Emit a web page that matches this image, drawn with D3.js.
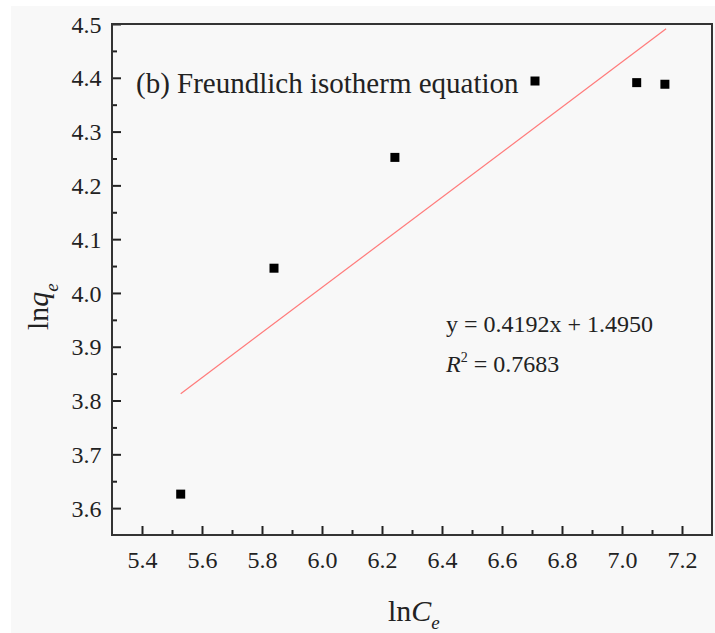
<!DOCTYPE html>
<html>
<head>
<meta charset="utf-8">
<script src="https://cdn.jsdelivr.net/npm/d3@7/dist/d3.min.js"></script>
<style>
  html, body { margin: 0; padding: 0; background: #ffffff; }
  svg { display: block; }
  text { font-family: "Liberation Serif", "Times New Roman", serif; fill: #222; }
</style>
</head>
<body>
<svg id="chart" width="715" height="633"></svg>
<script>
// Freundlich isotherm: ln(Ce) vs ln(qe)
const lnCe = [5.529, 5.840, 6.243, 6.710, 7.049, 7.143];
const lnqe = [3.626, 4.046, 4.252, 4.394, 4.391, 4.388];

// linear fit reported on the chart
const fitSlope = 0.4192;
const fitIntercept = 1.4950;
const fitR2 = "0.7683";

const xMajorTicks = [5.4, 5.6, 5.8, 6.0, 6.2, 6.4, 6.6, 6.8, 7.0, 7.2];
const xMinorTicks = [5.5, 5.7, 5.9, 6.1, 6.3, 6.5, 6.7, 6.9, 7.1];
const yMajorTicks = [3.6, 3.7, 3.8, 3.9, 4.0, 4.1, 4.2, 4.3, 4.4, 4.5];
const yMinorTicks = [3.65, 3.75, 3.85, 3.95, 4.05, 4.15, 4.25, 4.35, 4.45];

const SERIF = '"Liberation Serif", "Times New Roman", serif';

const svg = d3.select("#chart");
const W = 715, H = 633;
const plot = { left: 112, right: 712, top: 24, bottom: 535 };

// page background panel
svg.append("rect")
  .attr("x", 11).attr("y", 6)
  .attr("width", W - 11).attr("height", H - 6)
  .attr("fill", "#f8f8f8");

const x = d3.scaleLinear().domain([5.3, 7.3]).range([plot.left, plot.right]);
const y = d3.scaleLinear().domain([3.55, 4.5]).range([plot.bottom, plot.top]);

const fontTick = 24;

// bottom axis, ticks pointing inward
const gx = svg.append("g").attr("transform", `translate(0,${plot.bottom})`);
gx.call(d3.axisBottom(x).tickValues(xMajorTicks).tickSize(-9).tickFormat(d3.format(".1f")));
gx.append("g").call(d3.axisBottom(x).tickValues(xMinorTicks).tickSize(-5).tickFormat(() => ""));
gx.attr("font-family", SERIF).attr("font-size", fontTick);
gx.selectAll("g").attr("font-family", SERIF);
gx.selectAll(".domain").remove();
gx.selectAll("line").attr("stroke", "#222").attr("stroke-width", 2);
gx.selectAll("text")
  .attr("y", 33).attr("dy", null)
  .style("font-family", SERIF)
  .style("font-size", fontTick + "px")
  .attr("fill", "#222");

// left axis, ticks pointing inward
const gy = svg.append("g").attr("transform", `translate(${plot.left},0)`);
gy.call(d3.axisLeft(y).tickValues(yMajorTicks).tickSize(-9).tickPadding(10.5).tickFormat(d3.format(".1f")));
gy.append("g").call(d3.axisLeft(y).tickValues(yMinorTicks).tickSize(-5).tickFormat(() => ""));
gy.attr("font-family", SERIF).attr("font-size", fontTick);
gy.selectAll("g").attr("font-family", SERIF);
gy.selectAll(".domain").remove();
gy.selectAll("line").attr("stroke", "#222").attr("stroke-width", 2);
gy.selectAll("text")
  .attr("dy", "0.34em")
  .style("font-family", SERIF)
  .style("font-size", fontTick + "px")
  .attr("fill", "#222");

// plot frame
svg.append("rect")
  .attr("x", plot.left).attr("y", plot.top)
  .attr("width", plot.right - plot.left).attr("height", plot.bottom - plot.top)
  .attr("fill", "none").attr("stroke", "#333").attr("stroke-width", 2);

// fitted line across the data range
const [xa, xb] = d3.extent(lnCe);
svg.append("line")
  .attr("x1", x(xa)).attr("y1", y(fitSlope * xa + fitIntercept))
  .attr("x2", x(xb + 0.004)).attr("y2", y(fitSlope * (xb + 0.004) + fitIntercept))
  .attr("stroke", "#ff7a7a").attr("stroke-width", 1.2);

// data points
const sq = 9;
svg.append("g").selectAll("rect")
  .data(lnCe.map((v, i) => [v, lnqe[i]]))
  .join("rect")
  .attr("x", d => x(d[0]) - sq / 2)
  .attr("y", d => y(d[1]) - sq / 2)
  .attr("width", sq).attr("height", sq)
  .attr("fill", "#000");

// panel title
svg.append("text")
  .attr("x", 136).attr("y", 93)
  .style("font-size", "29px")
  .text("(b) Freundlich isotherm equation");

// fit equation
svg.append("text")
  .attr("x", 446).attr("y", 332)
  .style("font-size", "24px")
  .text(`y = ${fitSlope.toFixed(4)}x + ${fitIntercept.toFixed(4)}`);

const r2 = svg.append("text")
  .attr("x", 446).attr("y", 371.5)
  .style("font-size", "24px");
r2.append("tspan").style("font-style", "italic").text("R");
r2.append("tspan").attr("dy", -10).style("font-size", "14px").text("2");
r2.append("tspan").attr("dy", 10).text(" = " + fitR2);

// axis titles
const xl = svg.append("text")
  .attr("x", 388).attr("y", 621)
  .style("font-size", "30px");
xl.append("tspan").text("ln");
xl.append("tspan").style("font-style", "italic").text("C");
xl.append("tspan").attr("dy", 8).style("font-style", "italic").style("font-size", "19px").text("e");

const yl = svg.append("text")
  .attr("transform", "translate(48,330) rotate(-90)")
  .style("font-size", "30px");
yl.append("tspan").text("ln");
yl.append("tspan").style("font-style", "italic").text("q");
yl.append("tspan").attr("dy", 10).style("font-style", "italic").style("font-size", "19px").text("e");
</script>
</body>
</html>
